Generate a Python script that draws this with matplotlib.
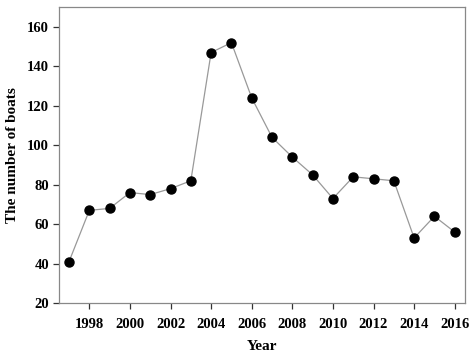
import matplotlib
matplotlib.use('Agg')
import matplotlib.pyplot as plt

years = [1997, 1998, 1999, 2000, 2001, 2002, 2003, 2004, 2005, 2006,
         2007, 2008, 2009, 2010, 2011, 2012, 2013, 2014, 2015, 2016]
boats = [41, 67, 68, 76, 75, 78, 82, 147, 152, 124,
         104, 94, 85, 73, 84, 83, 82, 53, 64, 56]
x_ticks = [1998, 2000, 2002, 2004, 2006, 2008, 2010, 2012, 2014, 2016]
y_ticks = [20, 40, 60, 80, 100, 120, 140, 160]

plt.rcParams['font.family'] = ['Liberation Serif', 'DejaVu Serif']
plt.rcParams['font.weight'] = 'bold'


def main():
    fig = plt.figure(figsize=(4.71, 3.57), dpi=100)
    ax = fig.add_axes([0.125, 0.151, 0.862, 0.829])
    ax.plot(years, boats, color='#999999', lw=0.9, marker='o',
            markersize=6.5, markerfacecolor='black', markeredgecolor='black')
    ax.set_xlim(1996.5, 2016.5)
    ax.set_ylim(20, 170)
    ax.set_xticks(x_ticks)
    ax.set_yticks(y_ticks)
    for s in ax.spines.values():
        s.set_color('#888888')
        s.set_linewidth(0.9)
    ax.tick_params(direction='out', length=4, width=0.9, color='#333333',
                   labelsize=10.5, pad=7)
    ax.tick_params(axis='y', pad=3)
    for lab in ax.get_xticklabels() + ax.get_yticklabels():
        lab.set_fontweight('bold')
    ax.set_xlabel('Year', fontsize=11, fontweight='bold', labelpad=6)
    ax.set_ylabel('The number of boats', fontsize=11, fontweight='bold',
                  labelpad=6)
    fig.savefig('out.png', dpi=100)


if __name__ == '__main__':
    main()
